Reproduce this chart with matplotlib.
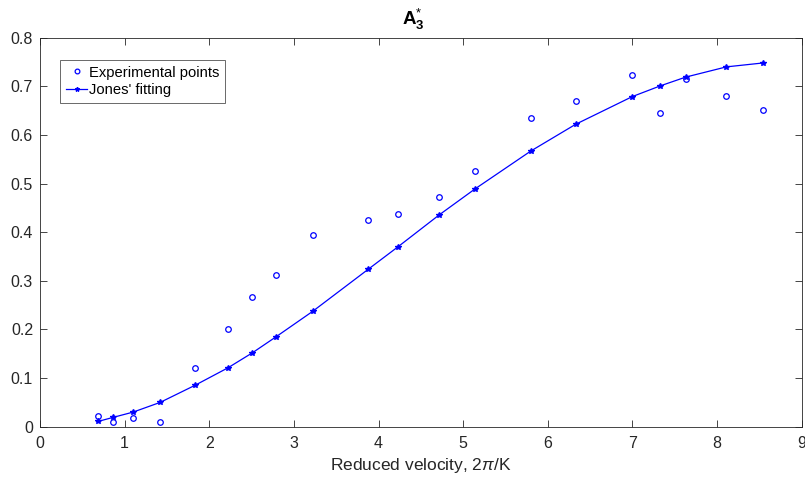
import matplotlib
matplotlib.use("Agg")
import matplotlib.pyplot as plt

plt.rcParams['font.family'] = ['Liberation Sans', 'DejaVu Sans']
plt.rcParams['mathtext.fontset'] = 'custom'
plt.rcParams['mathtext.rm'] = 'Liberation Sans'
plt.rcParams['mathtext.it'] = 'Liberation Sans:italic'
plt.rcParams['mathtext.bf'] = 'Liberation Sans:bold'

# Reduced velocity values
reduced_velocity = [0.69, 0.86, 1.10, 1.42, 1.83, 2.22, 2.51, 2.79, 3.22, 3.88,
                    4.23, 4.72, 5.14, 5.80, 6.33, 7.00, 7.33, 7.63, 8.11, 8.54]
# Measured A3* values
experimental = [0.021, 0.010, 0.018, 0.010, 0.120, 0.200, 0.266, 0.313, 0.394, 0.425,
                0.437, 0.472, 0.526, 0.634, 0.669, 0.723, 0.646, 0.715, 0.680, 0.652]
# Jones' fitted curve
jones_fit = [0.011, 0.019, 0.030, 0.050, 0.085, 0.121, 0.152, 0.185, 0.237, 0.324,
             0.370, 0.436, 0.489, 0.567, 0.622, 0.679, 0.701, 0.719, 0.740, 0.748]

x_ticks = [0, 1, 2, 3, 4, 5, 6, 7, 8, 9]
y_ticks = [0, 0.1, 0.2, 0.3, 0.4, 0.5, 0.6, 0.7, 0.8]

fig = plt.figure(figsize=(8.05, 4.83), dpi=100)
ax = fig.add_axes([40 / 805, 1 - 426.7 / 483, (801.7 - 40) / 805, (426.7 - 37.7) / 483])

blue = (0, 0, 1)
ax.plot(reduced_velocity, experimental, linestyle='none', marker='o', markersize=4,
        markerfacecolor='none', markeredgecolor=blue, markeredgewidth=0.9,
        label='Experimental points')
ax.plot(reduced_velocity, jones_fit, color=blue, linewidth=0.9, marker='*',
        markersize=3.8, label="Jones' fitting")

ax.set_xlim(0, 9)
ax.set_ylim(0, 0.8)
ax.set_xticks(x_ticks)
ax.set_yticks(y_ticks)
ax.set_xticklabels([str(v) for v in x_ticks])
ax.set_yticklabels(['0'] + [f'{v:.1f}' for v in y_ticks[1:]])

axis_color = (0.15, 0.15, 0.15)
for spine in ax.spines.values():
    spine.set_color(axis_color)
    spine.set_linewidth(0.6)
ax.tick_params(direction='in', length=5, width=0.6, colors=axis_color,
               labelsize=11.5, top=True, right=True)
ax.tick_params(axis='x', pad=7)
ax.tick_params(axis='y', pad=5)

ax.set_xlabel('Reduced velocity, 2$\\pi$/K', fontsize=12.5, color=axis_color, labelpad=3)
ax.set_title(r'$\mathbf{A}_\mathbf{3}^{*}$', fontsize=13.5, pad=9, x=0.49)

leg = ax.legend(loc='upper left', bbox_to_anchor=(20 / 761.7, 1 - 22 / 389), fontsize=10.6,
                frameon=True, fancybox=False, borderpad=0.4, handlelength=1.45,
                handletextpad=0.1, labelspacing=0.25, borderaxespad=0, markerscale=0.85)
leg.get_frame().set_edgecolor(axis_color)
leg.get_frame().set_linewidth(0.6)

fig.savefig('out.png', dpi=100)
